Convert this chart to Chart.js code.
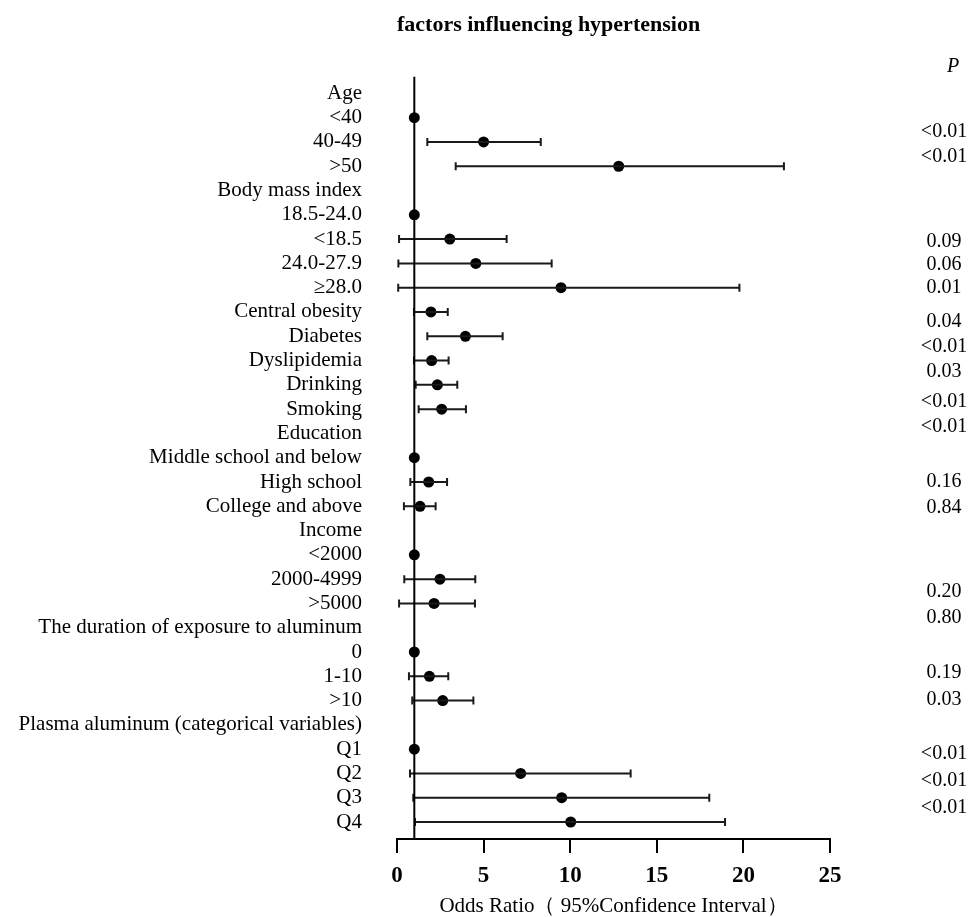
<!DOCTYPE html>
<html>
<head>
<meta charset="utf-8">
<script src="https://cdn.jsdelivr.net/npm/chart.js@4.4.0/dist/chart.umd.min.js"></script>
<style>
html, body { margin: 0; padding: 0; background: #fff; }
#wrap { width: 976px; height: 917px; position: relative; }
</style>
</head>
<body>
<div id="wrap"><canvas id="forest"></canvas></div>
<script>
// rows, top to bottom (headers have no estimate)
const rowLabels = [
  'Age', '<40', '40-49', '>50',
  'Body mass index', '18.5-24.0', '<18.5', '24.0-27.9', '\u226528.0',
  'Central obesity', 'Diabetes', 'Dyslipidemia', 'Drinking', 'Smoking',
  'Education', 'Middle school and below', 'High school', 'College and above',
  'Income', '<2000', '2000-4999', '>5000',
  'The duration of exposure to aluminum', '0', '1-10', '>10',
  'Plasma aluminum (categorical variables)', 'Q1', 'Q2', 'Q3', 'Q4'
];
const oddsRatio = [
  null, 1, 5.0, 12.8,
  null, 1, 3.05, 4.55, 9.47,
  1.96, 3.95, 2.0, 2.33, 2.58,
  null, 1, 1.83, 1.33,
  null, 1, 2.48, 2.14,
  null, 1, 1.87, 2.64,
  null, 1, 7.14, 9.51, 10.03
];
const ciLower = [
  null, null, 1.75, 3.39,
  null, null, 0.12, 0.08, 0.07,
  0.98, 1.75, 0.98, 1.08, 1.25,
  null, null, 0.77, 0.40,
  null, null, 0.42, 0.12,
  null, null, 0.69, 0.88,
  null, null, 0.75, 0.94, 1.04
];
const ciUpper = [
  null, null, 8.30, 22.34,
  null, null, 6.33, 8.93, 19.77,
  2.93, 6.10, 2.98, 3.48, 3.98,
  null, null, 2.89, 2.23,
  null, null, 4.52, 4.50,
  null, null, 2.96, 4.41,
  null, null, 13.49, 18.03, 18.94
];
const xTicks = [0, 5, 10, 15, 20, 25];
const refOR = 1;

// P column (its own spacing, given in row units)
const pTexts = ['<0.01', '<0.01', '0.09', '0.06', '0.01', '0.04', '<0.01', '0.03', '<0.01', '<0.01',
  '0.16', '0.84', '0.20', '0.80', '0.19', '0.03', '<0.01', '<0.01', '<0.01'];
const pRows = [1.59, 2.62, 6.11, 7.07, 8.01, 9.40, 10.43, 11.46, 12.69, 13.71,
  15.98, 17.06, 20.5, 21.6, 23.85, 24.95, 27.2, 28.3, 29.4];
const pHeaderRow = -1.1;

const yMin = -0.7, yMax = 30.7;
const serif = 'Liberation Serif';

const whiskers = [], caps = [], dots = [];
rowLabels.forEach((lab, i) => {
  if (oddsRatio[i] != null) dots.push({ x: oddsRatio[i], y: i });
  if (ciLower[i] != null) {
    whiskers.push({ x: ciLower[i], y: i }, { x: ciUpper[i], y: i }, { x: null, y: null });
    caps.push({ x: ciLower[i], y: i }, { x: ciUpper[i], y: i });
  }
});

const pColumn = {
  id: 'pColumn',
  afterDraw(chart) {
    const c = chart.ctx, ys = chart.scales.y, cx = chart.chartArea.right + 114;
    c.save();
    c.fillStyle = '#000';
    c.textAlign = 'center';
    c.textBaseline = 'middle';
    c.font = 'italic 20px "' + serif + '"';
    c.fillText('P', cx + 9, ys.getPixelForValue(pHeaderRow));
    c.font = '20px "' + serif + '"';
    pTexts.forEach((t, i) => c.fillText(t, cx, ys.getPixelForValue(pRows[i])));
    c.restore();
  }
};

new Chart(document.getElementById('forest'), {
  type: 'scatter',
  data: {
    datasets: [
      {
        label: 'reference',
        data: [{ x: refOR, y: yMin }, { x: refOR, y: yMax }],
        showLine: true, borderColor: '#000', borderWidth: 2, pointRadius: 0
      },
      {
        label: '95% CI',
        data: whiskers,
        showLine: true, spanGaps: false, borderColor: '#1a1a1a', borderWidth: 2, pointRadius: 0
      },
      {
        label: 'caps',
        data: caps,
        pointStyle: 'line', rotation: 90, radius: 4, borderColor: '#1a1a1a', borderWidth: 2
      },
      {
        label: 'OR',
        data: dots,
        pointStyle: 'circle', radius: 5.5, backgroundColor: '#000', borderWidth: 0
      }
    ]
  },
  options: {
    responsive: true,
    maintainAspectRatio: false,
    animation: false,
    layout: { padding: { left: 0, right: 146, top: 0, bottom: 0 } },
    plugins: {
      legend: { display: false },
      tooltip: { enabled: false },
      title: {
        display: true,
        text: 'factors influencing hypertension',
        align: 'start',
        fullSize: false,
        color: '#000',
        font: { family: serif, size: 22, weight: 'bold' },
        padding: { top: 12, bottom: 38 }
      }
    },
    scales: {
      x: {
        type: 'linear',
        min: 0,
        max: 25,
        afterBuildTicks: s => { s.ticks = xTicks.map(v => ({ value: v })); },
        afterFit: s => { s.height = 78; },
        ticks: { color: '#000', padding: 9, font: { family: serif, size: 23, weight: 'bold' } },
        grid: { drawOnChartArea: false, drawTicks: true, tickLength: 14, color: '#000', lineWidth: 2 },
        border: { display: true, color: '#000', width: 2 },
        title: {
          display: true,
          text: 'Odds Ratio\uFF08 95%Confidence Interval\uFF09',
          color: '#000',
          font: { family: serif, size: 21, lineHeight: 1 },
          padding: 0
        }
      },
      y: {
        type: 'linear',
        reverse: true,
        min: yMin,
        max: yMax,
        afterBuildTicks: s => { s.ticks = rowLabels.map((l, i) => ({ value: i })); },
        afterFit: s => { s.width = 397; },
        ticks: {
          autoSkip: false,
          color: '#000',
          padding: 27,
          font: { family: serif, size: 21 },
          callback: v => rowLabels[v]
        },
        grid: { display: false },
        border: { display: false }
      }
    }
  },
  plugins: [pColumn]
});
</script>
</body>
</html>
